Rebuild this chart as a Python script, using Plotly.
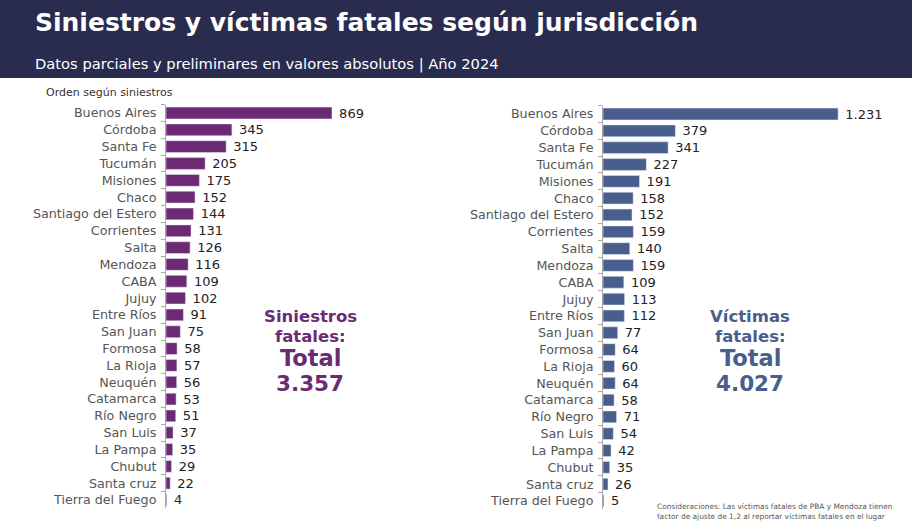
import plotly.graph_objects as go

jurisdicciones = ["Buenos Aires", "Córdoba", "Santa Fe", "Tucumán", "Misiones", "Chaco",
                  "Santiago del Estero", "Corrientes", "Salta", "Mendoza", "CABA", "Jujuy",
                  "Entre Ríos", "San Juan", "Formosa", "La Rioja", "Neuquén", "Catamarca",
                  "Río Negro", "San Luis", "La Pampa", "Chubut", "Santa cruz", "Tierra del Fuego"]
siniestros = [869, 345, 315, 205, 175, 152, 144, 131, 126, 116, 109, 102,
              91, 75, 58, 57, 56, 53, 51, 37, 35, 29, 22, 4]
victimas = [1231, 379, 341, 227, 191, 158, 152, 159, 140, 159, 109, 113,
            112, 77, 64, 60, 64, 58, 71, 54, 42, 35, 26, 5]
total_siniestros = "3.357"
total_victimas = "4.027"

W, H = 912, 522
PX_PER_UNIT = 0.191
PURPLE = "#6b2a73"
BLUE = "#4a5e8d"
NAVY = "#292b4f"
FONT = "DejaVu Sans"


def fmt(v):
    return " " + f"{v:,}".replace(",", ".")


fig = go.Figure()
fig.add_trace(go.Bar(
    y=jurisdicciones, x=siniestros, orientation="h",
    marker=dict(color=PURPLE), text=[fmt(v) for v in siniestros],
    textposition="outside", cliponaxis=False, constraintext="none",
    textfont=dict(size=13, color="#222222", family=FONT),
    xaxis="x", yaxis="y", hoverinfo="x+y"))
fig.add_trace(go.Bar(
    y=jurisdicciones, x=victimas, orientation="h",
    marker=dict(color=BLUE), text=[fmt(v) for v in victimas],
    textposition="outside", cliponaxis=False, constraintext="none",
    textfont=dict(size=13, color="#222222", family=FONT),
    xaxis="x2", yaxis="y2", hoverinfo="x+y"))

lx0, lx1 = 166, 380
rx0, rx1 = 603, 905
ytop, ybot = 104.6, 508.4
ydom = [(H - ybot) / H, (H - ytop) / H]
ytop2, ybot2 = 105.6, 509.4
ydom2 = [(H - ybot2) / H, (H - ytop2) / H]

yax = dict(type="category", autorange="reversed", showline=True, linecolor="#a8a8a8",
           linewidth=1, ticks="outside", ticklen=4, tickcolor="#a8a8a8",
           tickson="boundaries", showgrid=False, ticklabelstandoff=6,
           tickfont=dict(size=12.7, color="#555555", family=FONT))
xax = dict(visible=False, showgrid=False, zeroline=False)

fig.update_layout(
    width=W, height=H, margin=dict(l=0, r=0, t=0, b=0),
    paper_bgcolor="white", plot_bgcolor="rgba(0,0,0,0)",
    showlegend=False, bargap=0.3,
    font=dict(family=FONT),
    xaxis=dict(xax, domain=[lx0 / W, lx1 / W], range=[0, (lx1 - lx0) / PX_PER_UNIT]),
    yaxis=dict(yax, domain=ydom, anchor="x"),
    xaxis2=dict(xax, domain=[rx0 / W, rx1 / W], range=[0, (rx1 - rx0) / PX_PER_UNIT]),
    yaxis2=dict(yax, domain=ydom2, anchor="x2"),
)

fig.add_shape(type="rect", xref="paper", yref="paper", x0=0, x1=1,
              y0=1 - 78 / H, y1=1, fillcolor=NAVY, line=dict(width=0), layer="below")


def ann(text, x, y, size, color, bold=False, xanchor="left", yanchor="middle"):
    fig.add_annotation(text=f"<b>{text}</b>" if bold else text, x=x / W, y=1 - y / H,
                       xref="paper", yref="paper", showarrow=False,
                       xanchor=xanchor, yanchor=yanchor,
                       font=dict(size=size, color=color, family=FONT))


ann("Siniestros y víctimas fatales según jurisdicción", 33, 22, 25, "white", bold=True)
ann("Datos parciales y preliminares en valores absolutos | Año 2024", 33, 64, 14.7, "white")
ann("Orden según siniestros", 44, 93, 11, "#333333")

ann("Siniestros", 310, 316, 16.5, PURPLE, bold=True, xanchor="center")
ann("fatales:", 310, 336, 16.5, PURPLE, bold=True, xanchor="center")
ann("Total", 310, 358, 22.5, PURPLE, bold=True, xanchor="center")
ann(total_siniestros, 310, 383, 21.5, PURPLE, bold=True, xanchor="center")

ann("Víctimas", 750, 316, 16.5, BLUE, bold=True, xanchor="center")
ann("fatales:", 750, 336, 16.5, BLUE, bold=True, xanchor="center")
ann("Total", 750, 358, 22.5, BLUE, bold=True, xanchor="center")
ann(total_victimas, 750, 383, 21.5, BLUE, bold=True, xanchor="center")

fig.add_annotation(
    text="Consideraciones: Las víctimas fatales de PBA y Mendoza tienen<br>factor de ajuste de 1,2 al reportar víctimas fatales en el lugar",
    x=655 / W, y=1 - 500 / H, xref="paper", yref="paper", showarrow=False,
    xanchor="left", yanchor="top", align="left",
    font=dict(size=7.4, color="#555555", family=FONT))

fig.write_html("out.html")
